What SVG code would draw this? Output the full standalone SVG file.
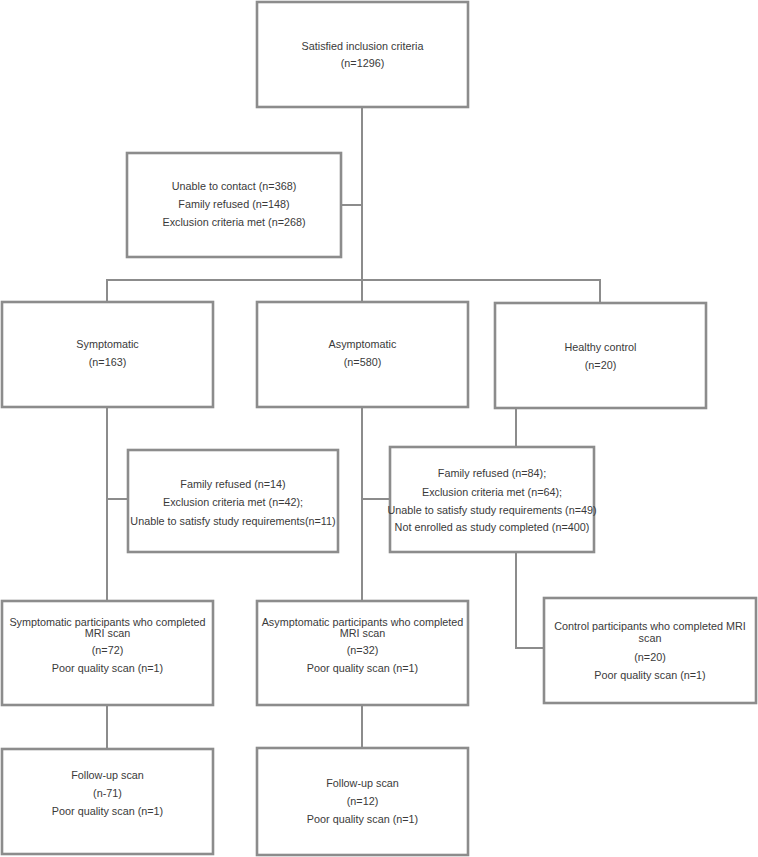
<svg xmlns="http://www.w3.org/2000/svg" width="758" height="857" viewBox="0 0 758 857">
<style>
.box{fill:#ffffff;stroke:#8c8c8c;stroke-width:2.6}
.con{fill:none;stroke:#8c8c8c;stroke-width:2}
text{font-family:"Liberation Sans",Arial,sans-serif;font-size:10.8px;fill:#3a3a3a;text-anchor:middle}
</style>
<rect width="758" height="857" fill="#ffffff"/>
<g id="connectors">
<path class="con" d="M362,107 V280"/>
<path class="con" d="M341,205 H362"/>
<path class="con" d="M107,302 V280 H600 V303"/>
<path class="con" d="M362,280 V302"/>
<path class="con" d="M107,407 V601"/>
<path class="con" d="M107,499 H128"/>
<path class="con" d="M362,407 V601"/>
<path class="con" d="M362,499 H390"/>
<path class="con" d="M516,408 V447"/>
<path class="con" d="M516,552 V648 H544"/>
<path class="con" d="M107,705 V749"/>
<path class="con" d="M362,705 V748"/>
</g>
<g id="inclusion">
<rect class="box" x="257" y="2" width="211" height="105"/>
<text x="362.5" y="50">Satisfied inclusion criteria</text>
<text x="362.5" y="67">(n=1296)</text>
</g>
<g id="excluded">
<rect class="box" x="127" y="153" width="214" height="104"/>
<text x="234" y="190">Unable to contact (n=368)</text>
<text x="234" y="208">Family refused (n=148)</text>
<text x="234" y="226">Exclusion criteria met (n=268)</text>
</g>
<g id="symptomatic">
<rect class="box" x="2" y="302" width="211" height="105"/>
<text x="107.5" y="348">Symptomatic</text>
<text x="107.5" y="366">(n=163)</text>
</g>
<g id="asymptomatic">
<rect class="box" x="257" y="302" width="211" height="105"/>
<text x="362.5" y="348">Asymptomatic</text>
<text x="362.5" y="366">(n=580)</text>
</g>
<g id="healthy">
<rect class="box" x="495" y="303" width="211" height="105"/>
<text x="600.5" y="351">Healthy control</text>
<text x="600.5" y="369">(n=20)</text>
</g>
<g id="sympt-excluded">
<rect class="box" x="128" y="450" width="210" height="102"/>
<text x="233" y="488">Family refused (n=14)</text>
<text x="233" y="506">Exclusion criteria met (n=42);</text>
<text x="233" y="525">Unable to satisfy study requirements(n=11)</text>
</g>
<g id="control-excluded">
<rect class="box" x="390" y="447" width="204" height="105"/>
<text x="492" y="477">Family refused (n=84);</text>
<text x="492" y="496">Exclusion criteria met (n=64);</text>
<text x="492" y="514">Unable to satisfy study requirements (n=49)</text>
<text x="492" y="531">Not enrolled as study completed (n=400)</text>
</g>
<g id="sympt-mri">
<rect class="box" x="2" y="601" width="211" height="104"/>
<text x="107.5" y="626">Symptomatic participants who completed</text>
<text x="107.5" y="637">MRI scan</text>
<text x="107.5" y="654">(n=72)</text>
<text x="107.5" y="672">Poor quality scan (n=1)</text>
</g>
<g id="asympt-mri">
<rect class="box" x="257" y="601" width="211" height="104"/>
<text x="362.5" y="626">Asymptomatic participants who completed</text>
<text x="362.5" y="637">MRI scan</text>
<text x="362.5" y="654">(n=32)</text>
<text x="362.5" y="672">Poor quality scan (n=1)</text>
</g>
<g id="control-mri">
<rect class="box" x="544" y="598" width="212" height="105"/>
<text x="650" y="630">Control participants who completed MRI</text>
<text x="650" y="642">scan</text>
<text x="650" y="661">(n=20)</text>
<text x="650" y="679">Poor quality scan (n=1)</text>
</g>
<g id="sympt-followup">
<rect class="box" x="2" y="749" width="211" height="105"/>
<text x="107.5" y="779">Follow-up scan</text>
<text x="107.5" y="797">(n-71)</text>
<text x="107.5" y="815">Poor quality scan (n=1)</text>
</g>
<g id="asympt-followup">
<rect class="box" x="257" y="748" width="211" height="107"/>
<text x="362.5" y="787">Follow-up scan</text>
<text x="362.5" y="805">(n=12)</text>
<text x="362.5" y="823">Poor quality scan (n=1)</text>
</g>
</svg>
